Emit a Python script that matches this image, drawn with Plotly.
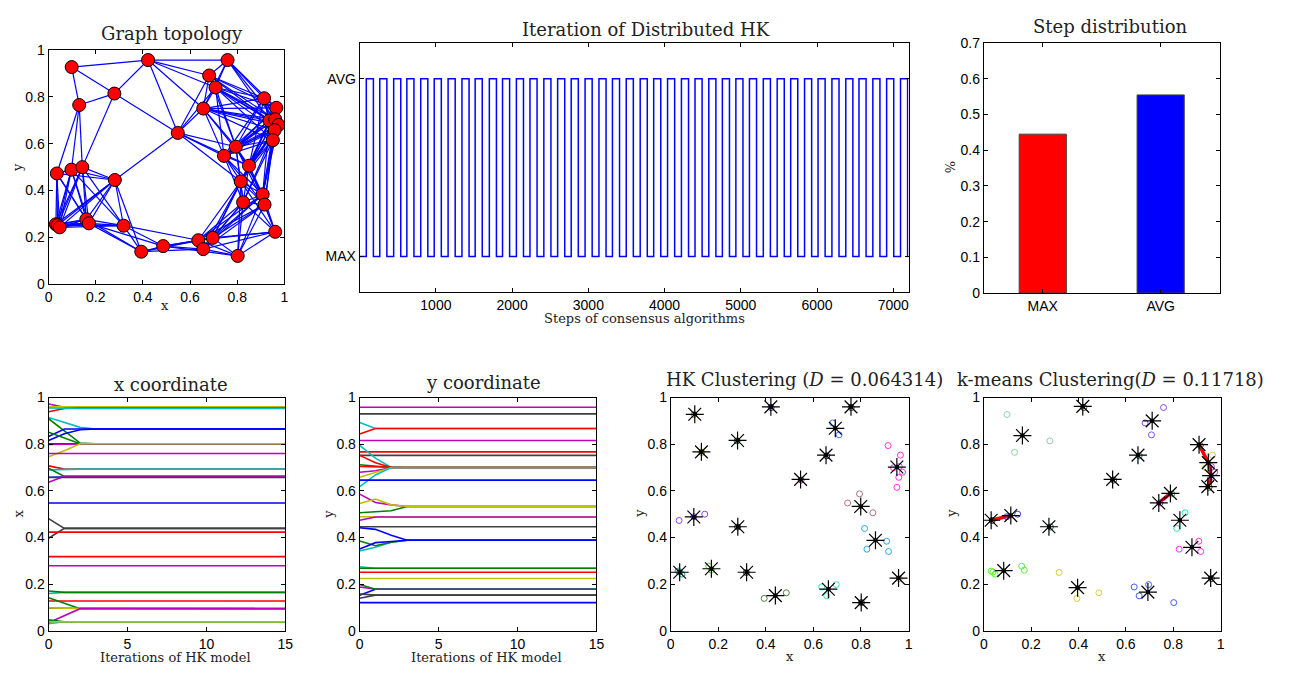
import plotly.graph_objects as go

# ---------------- data ----------------
# node positions (graph topology)
node_x = [0.098, 0.422, 0.759, 0.681, 0.708, 0.279, 0.130, 0.914, 0.966, 0.656,
          0.937, 0.961, 0.975, 0.959, 0.951, 0.548, 0.794, 0.744, 0.850, 0.035,
          0.097, 0.143, 0.281, 0.815, 0.908, 0.825, 0.916, 0.031, 0.038, 0.047,
          0.160, 0.171, 0.318, 0.961, 0.635, 0.696, 0.656, 0.486, 0.393, 0.802]
node_y = [0.927, 0.957, 0.957, 0.891, 0.840, 0.814, 0.765, 0.794, 0.753, 0.750,
          0.699, 0.704, 0.680, 0.658, 0.615, 0.646, 0.587, 0.548, 0.506, 0.473,
          0.489, 0.500, 0.445, 0.439, 0.384, 0.350, 0.340, 0.256, 0.252, 0.243,
          0.277, 0.260, 0.250, 0.224, 0.188, 0.198, 0.150, 0.163, 0.139, 0.121]
comm_radius = 0.345

# step sequence of distributed HK (switch points)
max_to_avg = [87, 264, 446, 619, 801, 978, 1160, 1342, 1515, 1701, 1874, 2056, 2234,
              2416, 2597, 2775, 2957, 3139, 3316, 3497, 3680, 3857, 4039, 4221, 4399,
              4580, 4758, 4935, 5113, 5295, 5477, 5654, 5836, 6013, 6195, 6377, 6550,
              6732, 6913, 7095]
avg_to_max = [180, 357, 539, 712, 894, 1071, 1253, 1435, 1608, 1794, 1967, 2149, 2327,
              2509, 2690, 2868, 3050, 3232, 3409, 3590, 3773, 3950, 4132, 4314, 4492,
              4673, 4851, 5028, 5206, 5388, 5570, 5747, 5929, 6106, 6288, 6470, 6643,
              6825, 7006, 7188]
total_steps = 7200

# step distribution
step_cats = ["MAX", "AVG"]
step_vals = [0.445, 0.555]

# HK trajectories: iterations and per-line values
hk_iters = [0, 1, 2, 3, 15]
x_traj_colors = ["m", "y", "r", "c", "c", "g", "b", "b", "g", "b", "m", "y", "m", "r",
                 "c", "g", "b", "m", "k", "b", "k", "k", "r", "r", "m", "c", "g", "r",
                 "g", "k", "y", "m", "c", "g", "y"]
x_traj = [
    [0.972, 0.958, 0.958, 0.958, 0.958], [0.960, 0.960, 0.960, 0.960, 0.960],
    [0.939, 0.953, 0.955, 0.955, 0.955], [0.955, 0.953, 0.953, 0.953, 0.953],
    [0.914, 0.893, 0.872, 0.865, 0.865], [0.909, 0.858, 0.805, 0.802, 0.802],
    [0.833, 0.865, 0.865, 0.865, 0.865], [0.816, 0.845, 0.862, 0.865, 0.865],
    [0.851, 0.828, 0.802, 0.802, 0.802], [0.802, 0.802, 0.802, 0.802, 0.802],
    [0.799, 0.801, 0.802, 0.802, 0.802], [0.746, 0.772, 0.802, 0.802, 0.802],
    [0.760, 0.760, 0.760, 0.760, 0.760], [0.707, 0.693, 0.693, 0.693, 0.693],
    [0.690, 0.693, 0.693, 0.693, 0.693], [0.697, 0.662, 0.662, 0.662, 0.662],
    [0.658, 0.660, 0.660, 0.660, 0.660], [0.637, 0.662, 0.662, 0.662, 0.662],
    [0.657, 0.657, 0.657, 0.657, 0.657], [0.548, 0.548, 0.548, 0.548, 0.548],
    [0.481, 0.439, 0.439, 0.439, 0.439], [0.397, 0.439, 0.439, 0.439, 0.439],
    [0.423, 0.423, 0.423, 0.423, 0.423], [0.318, 0.318, 0.318, 0.318, 0.318],
    [0.279, 0.279, 0.279, 0.279, 0.279], [0.160, 0.165, 0.165, 0.165, 0.165],
    [0.171, 0.165, 0.165, 0.165, 0.165], [0.128, 0.128, 0.128, 0.128, 0.128],
    [0.142, 0.118, 0.095, 0.095, 0.095], [0.097, 0.097, 0.095, 0.095, 0.095],
    [0.098, 0.097, 0.095, 0.095, 0.095], [0.035, 0.065, 0.095, 0.095, 0.095],
    [0.031, 0.039, 0.039, 0.039, 0.039], [0.047, 0.039, 0.039, 0.039, 0.039],
    [0.039, 0.039, 0.039, 0.039, 0.039],
]
y_traj_colors = ["m", "k", "c", "r", "m", "r", "k", "c", "r", "g", "r", "m", "y", "c",
                 "b", "m", "g", "y", "y", "m", "k", "c", "g", "b", "b", "c", "g", "r",
                 "y", "m", "b", "g", "k", "k", "b"]
y_traj = [
    [0.958, 0.958, 0.958, 0.958, 0.958], [0.930, 0.930, 0.930, 0.930, 0.930],
    [0.893, 0.867, 0.867, 0.867, 0.867], [0.844, 0.867, 0.867, 0.867, 0.867],
    [0.816, 0.816, 0.816, 0.816, 0.816], [0.767, 0.767, 0.767, 0.767, 0.767],
    [0.752, 0.752, 0.752, 0.752, 0.752], [0.795, 0.740, 0.700, 0.700, 0.700],
    [0.752, 0.720, 0.700, 0.700, 0.700], [0.712, 0.706, 0.700, 0.700, 0.700],
    [0.704, 0.702, 0.700, 0.700, 0.700], [0.680, 0.686, 0.700, 0.700, 0.700],
    [0.658, 0.680, 0.700, 0.700, 0.700], [0.618, 0.668, 0.700, 0.700, 0.700],
    [0.646, 0.646, 0.646, 0.646, 0.646], [0.586, 0.550, 0.540, 0.533, 0.533],
    [0.506, 0.510, 0.515, 0.533, 0.533], [0.546, 0.565, 0.540, 0.533, 0.533],
    [0.489, 0.488, 0.488, 0.488, 0.488], [0.474, 0.488, 0.488, 0.488, 0.488],
    [0.446, 0.446, 0.446, 0.446, 0.446], [0.342, 0.358, 0.380, 0.388, 0.388],
    [0.385, 0.365, 0.380, 0.388, 0.388], [0.351, 0.378, 0.383, 0.388, 0.388],
    [0.442, 0.435, 0.410, 0.388, 0.388], [0.275, 0.268, 0.268, 0.268, 0.268],
    [0.268, 0.268, 0.268, 0.268, 0.268], [0.251, 0.251, 0.251, 0.251, 0.251],
    [0.224, 0.224, 0.224, 0.224, 0.224], [0.188, 0.178, 0.178, 0.178, 0.178],
    [0.153, 0.178, 0.178, 0.178, 0.178], [0.199, 0.178, 0.178, 0.178, 0.178],
    [0.140, 0.153, 0.153, 0.153, 0.153], [0.158, 0.153, 0.153, 0.153, 0.153],
    [0.121, 0.121, 0.121, 0.121, 0.121],
]

# HK clustering
hk_cx = [0.101, 0.421, 0.758, 0.692, 0.281, 0.129, 0.653, 0.951, 0.546, 0.799,
         0.097, 0.282, 0.861, 0.0375, 0.171, 0.319, 0.958, 0.440, 0.663, 0.801]
hk_cy = [0.928, 0.960, 0.960, 0.868, 0.816, 0.767, 0.753, 0.702, 0.649, 0.533,
         0.488, 0.446, 0.388, 0.251, 0.266, 0.251, 0.226, 0.151, 0.1785, 0.121]
hk_label = [0, 1, 2, 3, 3, 4, 5, 7, 7, 6, 7, 7, 7, 7, 7, 8, 9, 9, 9, 10,
            10, 10, 11, 12, 12, 12, 12, 13, 13, 13, 14, 14, 15, 16, 18, 18, 18, 17, 17, 19]
hk_colors = ["#a0a000", "#302080", "#303030", "#4070ff", "#207020", "#808000", "#202060",
             "#ff30e0", "#a02080", "#b07080", "#9040ff", "#404040", "#20b0e0", "#20a090",
             "#60d040", "#303030", "#c0c000", "#508040", "#30e8c0", "#303030"]
hk_D = "0.064314"

# k-means clustering
km_cx = [0.418, 0.711, 0.163, 0.651, 0.909, 0.948, 0.960, 0.946, 0.544, 0.788,
         0.739, 0.828, 0.031, 0.114, 0.275, 0.879, 0.084, 0.396, 0.693, 0.958]
km_cy = [0.962, 0.900, 0.837, 0.753, 0.798, 0.721, 0.665, 0.618, 0.649, 0.589,
         0.548, 0.474, 0.474, 0.494, 0.446, 0.358, 0.258, 0.185, 0.166, 0.226]
km_label = [2, 0, 1, 1, 1, 2, 2, 4, 5, 3, 5, 6, 6, 6, 7, 8, 9, 10, 11, 12,
            13, 13, 14, 11, 15, 15, 15, 16, 16, 16, 16, 16, 17, 19, 18, 18, 18, 17, 17, 18]
km_colors = ["#305030", "#8050e8", "#90d0a8", "#208080", "#404040", "#c8d040", "#a050e0",
             "#505020", "#303030", "#40a060", "#a030a0", "#30e0c0", "#303030", "#4040e0",
             "#306030", "#ff30f0", "#60f030", "#d8d040", "#4060f0", "#303030"]
km_link_x = [[0.031, 0.114], [0.739, 0.788], [0.909, 0.948, 0.960, 0.946]]
km_link_y = [[0.474, 0.494], [0.548, 0.589], [0.798, 0.721, 0.665, 0.618]]
km_D = "0.11718"

# ---------------- figure ----------------
W, H = 1293, 673
MCOL = {"b": "#0000ff", "g": "#008000", "r": "#ff0000", "c": "#00bfbf",
        "m": "#bf00bf", "y": "#bfbf00", "k": "#404040"}
TICKFONT = dict(family="Liberation Sans, Arial", size=14, color="black")
SERIF = "DejaVu Serif, serif"


def xd(a, b):
    return [a / W, b / W]


def yd(top, bottom):
    return [1 - bottom / H, 1 - top / H]


fig = go.Figure()

# 1. graph topology
ex, ey = [], []
n = len(node_x)
for i in range(n):
    for j in range(i + 1, n):
        d = ((node_x[i] - node_x[j]) ** 2 + (node_y[i] - node_y[j]) ** 2) ** 0.5
        if d <= comm_radius:
            ex += [node_x[i], node_x[j], None]
            ey += [node_y[i], node_y[j], None]
fig.add_trace(go.Scatter(x=ex, y=ey, mode="lines", line=dict(color="#0000ff", width=1.2),
                         xaxis="x", yaxis="y", hoverinfo="skip"))
fig.add_trace(go.Scatter(x=node_x, y=node_y, mode="markers",
                         marker=dict(color="#ff0000", size=13, line=dict(color="black", width=1)),
                         xaxis="x", yaxis="y"))

# 2. iteration of distributed HK
sx, sy = [1], [0]
for r, f in zip(max_to_avg, avg_to_max):
    sx += [r, f]
    sy += [1, 0]
sx.append(total_steps)
sy.append(0)
fig.add_trace(go.Scatter(x=sx, y=sy, mode="lines", line=dict(color="#0000ff", width=1.5, shape="hv"),
                         xaxis="x2", yaxis="y2"))

# 3. step distribution
fig.add_trace(go.Bar(x=step_cats, y=step_vals, width=0.4,
                     marker=dict(color=["#ff0000", "#0000ff"], line=dict(color="#404040", width=1)),
                     xaxis="x3", yaxis="y3"))

# 4. x coordinate
for col, tr in zip(x_traj_colors, x_traj):
    fig.add_trace(go.Scatter(x=hk_iters, y=tr, mode="lines", line=dict(color=MCOL[col], width=1.6),
                             xaxis="x4", yaxis="y4"))
# 5. y coordinate
for col, tr in zip(y_traj_colors, y_traj):
    fig.add_trace(go.Scatter(x=hk_iters, y=tr, mode="lines", line=dict(color=MCOL[col], width=1.6),
                             xaxis="x5", yaxis="y5"))


def cluster_panel(xa, ya, labels, colors, cx, cy):
    fig.add_trace(go.Scatter(x=node_x, y=node_y, mode="markers",
                             marker=dict(symbol="circle-open", size=6,
                                         color=[colors[l] for l in labels], line=dict(width=1)),
                             xaxis=xa, yaxis=ya))
    fig.add_trace(go.Scatter(x=cx, y=cy, mode="markers",
                             marker=dict(symbol="asterisk-open", size=15, color="black",
                                         line=dict(color="black", width=1.2)),
                             xaxis=xa, yaxis=ya))
    fig.add_trace(go.Scatter(x=cx, y=cy, mode="markers",
                             marker=dict(symbol="square", size=4, color="black"),
                             xaxis=xa, yaxis=ya))


# 6. HK clustering
cluster_panel("x6", "y6", hk_label, hk_colors, hk_cx, hk_cy)
# 7. k-means clustering
for lx, ly in zip(km_link_x, km_link_y):
    fig.add_trace(go.Scatter(x=lx, y=ly, mode="lines", line=dict(color="#ff0000", width=3.5),
                             xaxis="x7", yaxis="y7"))
cluster_panel("x7", "y7", km_label, km_colors, km_cx, km_cy)


def ax(domain, rng, anchor, **kw):
    d = dict(domain=domain, range=rng, anchor=anchor, showline=True, mirror="ticks",
             linecolor="black", linewidth=1, ticks="inside", ticklen=4, tickcolor="black",
             showgrid=False, zeroline=False, tickfont=TICKFONT, fixedrange=True)
    d.update(kw)
    return d


unit = dict(tickvals=[0, 0.2, 0.4, 0.6, 0.8, 1], ticktext=["0", "0.2", "0.4", "0.6", "0.8", "1"])
top_y = yd(36, 291)
bot_y = yd(399, 638)
layout = dict(
    width=W, height=H, margin=dict(l=0, r=0, t=0, b=0), showlegend=False,
    paper_bgcolor="white", plot_bgcolor="white",
    xaxis=ax(xd(45, 283), [0, 1], "y", **unit),
    yaxis=ax(yd(43, 283), [0, 1], "x", **unit),
    xaxis2=ax(xd(359, 913), [0, total_steps], "y2",
              tickvals=[1000, 2000, 3000, 4000, 5000, 6000, 7000]),
    yaxis2=ax(top_y, [-0.2, 1.2], "x2", tickvals=[0, 1], ticktext=["MAX", "AVG"]),
    xaxis3=ax(xd(989, 1227), [-0.5, 1.5], "y3", type="category"),
    yaxis3=ax(yd(36, 292), [0, 0.7], "x3",
              tickvals=[0, 0.1, 0.2, 0.3, 0.4, 0.5, 0.6, 0.7],
              ticktext=["0", "0.1", "0.2", "0.3", "0.4", "0.5", "0.6", "0.7"]),
    xaxis4=ax(xd(45, 284), [0, 15], "y4", tickvals=[0, 5, 10, 15]),
    yaxis4=ax(bot_y, [0, 1], "x4", **unit),
    xaxis5=ax(xd(359, 598), [0, 15], "y5", tickvals=[0, 5, 10, 15]),
    yaxis5=ax(bot_y, [0, 1], "x5", **unit),
    xaxis6=ax(xd(673, 913), [0, 1], "y6", **unit),
    yaxis6=ax(bot_y, [0, 1], "x6", **unit),
    xaxis7=ax(xd(989, 1228), [0, 1], "y7", **unit),
    yaxis7=ax(bot_y, [0, 1], "x7", **unit),
)
fig.update_layout(**layout)


def note(text, px, py, size, angle=0):
    fig.add_annotation(text=text, x=px / W, y=1 - py / H, xref="paper", yref="paper",
                       showarrow=False, xanchor="center", yanchor="middle", textangle=angle,
                       font=dict(family=SERIF, size=size, color="#222222"))


TS = 18
LS = 13
note("Graph topology", 170, 26, TS)
note("Iteration of Distributed HK", 648, 22, TS)
note("Step distribution", 1117, 19, TS)
note("x coordinate", 169, 386, TS)
note("y coordinate", 484, 384, TS)
note("HK Clustering (<i>D</i> = " + hk_D + ")", 808, 381, TS)
note("k-means Clustering(<i>D</i> = " + km_D + ")", 1117, 381, TS)

note("x", 163, 305, LS)
note("y", 13, 163, LS, -90)
note("Steps of consensus algorithms", 647, 318, LS)
note("%", 955, 163, LS, -90)
note("Iterations of HK model", 173, 665, LS)
note("x", 15, 518, LS, -90)
note("Iterations of HK model", 487, 665, LS)
note("y", 328, 518, LS, -90)
note("x", 793, 664, LS)
note("y", 642, 518, LS, -90)
note("x", 1108, 664, LS)
note("y", 957, 518, LS, -90)

fig.write_html("out.html")
